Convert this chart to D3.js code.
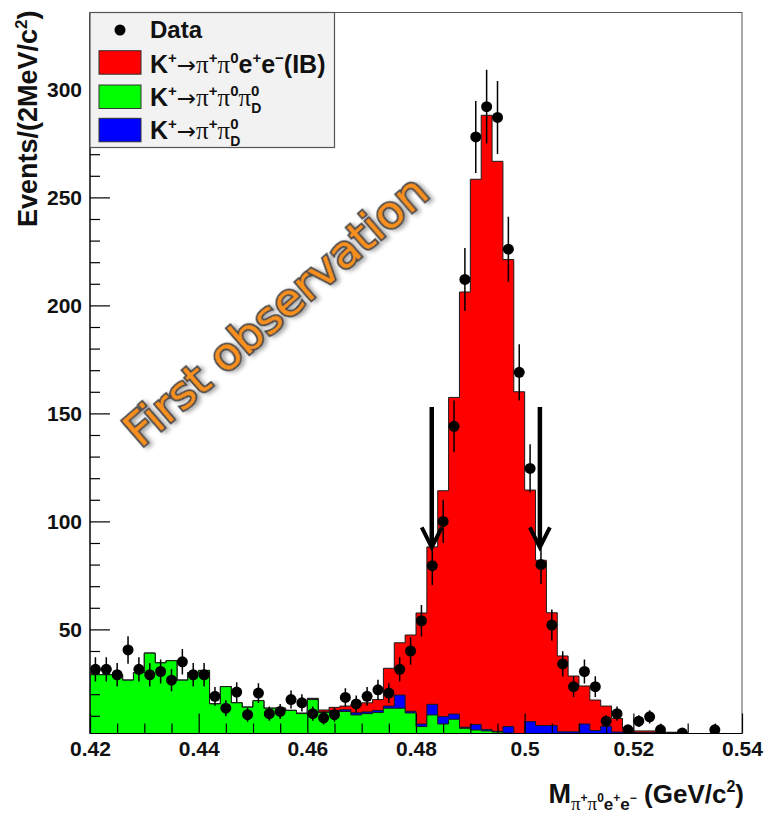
<!DOCTYPE html>
<html>
<head>
<meta charset="utf-8">
<script src="https://cdn.jsdelivr.net/npm/d3@7"></script>
<style>
body{margin:0;background:#fff;}
svg{display:block;}
</style>
</head>
<body>
<div id="chart"></div>
<script>
// 2 MeV bins from 0.420 to 0.540 GeV/c2
const binLow = 0.42;
const binWidth = 0.002;

const dataCounts = [
  31.5, 31.5, 29, 40.5, 31.5, 29, 30.5, 26.5, 35, 29,
  29, 19, 13.5, 21, 10.5, 20.5, 11, 12, 17.5, 16,
  11, 9, 10.5, 18.5, 15.5, 19, 22, 20.5, 31.5, 40,
  54, 79.5, 100, 144, 212, 278, 292, 287, 226, 169,
  124.5, 80, 52, 34, 23.5, 30.5, 23.5, 7.5, 11, 3.5,
  7.5, 9.5, 3.5, 0, 2, 0, 0, 3.5, 0, 0
];
// K+ -> pi+ pi0 pi0_D
const pi0pi0DCounts = [
  29, 29, 29, 26.5, 30, 39, 34.5, 35.5, 26.5, 30,
  31, 15.5, 23.5, 16, 14, 17, 13.5, 13.5, 12.5, 11,
  17.5, 11.5, 11.9, 12, 10.4, 11, 11.5, 13.5, 13.5, 11.3,
  5, 10.4, 6.2, 8.4, 4.2, 3.4, 3, 2.5, 2, 1.5,
  1.2, 1, 1, 1, 1, 1, 1, 1, 0.9, 0.9,
  0.9, 0.9, 0.9, 0.9, 0.8, 0, 0, 0, 0, 0
];
// K+ -> pi+ pi0_D
const pi0DCounts = [
  0, 0, 0, 0, 0, 0, 0, 0, 0, 0,
  0, 0, 0, 0, 0, 0, 0, 0, 0, 0,
  0.3, 0.3, 0.5, 0.8, 1, 0.8, 1, 1, 6.1, 0.8,
  1.2, 4.9, 3.4, 2.4, 0.5, 2.6, 0.7, 0.3, 3, 0.2,
  6.1, 4.5, 4.5, 1.6, 1.6, 5.2, 2.2, 4.2, 1.6, 1.5,
  1.4, 1.4, 1.4, 1.3, 1.2, 0, 0, 0, 0, 0
];
// K+ -> pi+ pi0 e+ e- (IB)
const ibCounts = [
  0, 0, 0, 0, 0, 0, 0, 0, 0, 0,
  0, 0, 0, 0, 0, 0, 0, 0, 0, 0.3,
  0.3, 0.9, 1.5, 1.7, 3.8, 4.2, 5, 17.5, 24.2, 35.3,
  51.4, 72.9, 104.6, 146.6, 201.5, 252.4, 284.3, 263.9, 216.2, 158.3,
  107.2, 76.5, 52.2, 35.1, 25.8, 17.6, 14.1, 9.3, 6.3, 1.8,
  0.7, 0.7, 0.1, 0.2, 0, 0, 0, 0, 0, 0
];

const xTicks = [0.42, 0.44, 0.46, 0.48, 0.5, 0.52, 0.54];
const yTicks = [50, 100, 150, 200, 250, 300];
const cutArrows = [0.4829, 0.5028];
const arrowSpan = [153, 88];

const w = 765, h = 813;
const frame = {left: 90, right: 742, top: 12.5, bottom: 733.5};

const xScale = d3.scaleLinear().domain([0.42, 0.54]).range([frame.left, frame.right]);
const yScale = d3.scaleLinear().domain([1.8, 335.6]).range([frame.bottom, frame.top]);

const svg = d3.select("#chart").append("svg")
    .attr("width", w)
    .attr("height", h)
    .style("font-family", "'Liberation Sans', Arial, sans-serif")
    .style("font-weight", "bold");

const defs = svg.append("defs");
defs.append("clipPath").attr("id", "frameClip")
    .append("rect")
    .attr("x", frame.left).attr("y", frame.top)
    .attr("width", frame.right - frame.left).attr("height", frame.bottom - frame.top);
const shadow = defs.append("filter").attr("id", "shadow")
    .attr("x", "-20%").attr("y", "-20%").attr("width", "140%").attr("height", "140%");
shadow.append("feDropShadow")
    .attr("dx", 2).attr("dy", 3).attr("stdDeviation", 2)
    .attr("flood-color", "#000").attr("flood-opacity", 0.35);

// stacked histograms
const stackGreen = pi0pi0DCounts.slice();
const stackBlue = stackGreen.map((v, i) => v + pi0DCounts[i]);
const stackRed = stackBlue.map((v, i) => v + ibCounts[i]);

const edges = d3.range(dataCounts.length + 1).map(i => binLow + i * binWidth);

const area = d3.area()
    .curve(d3.curveStepAfter)
    .x(d => xScale(d.x))
    .y0(frame.bottom + 5)
    .y1(d => Math.min(yScale(d.v), frame.bottom + 5));

function binPoints(vals) {
  const pts = vals.map((v, i) => ({x: edges[i], v: v}));
  pts.push({x: edges[vals.length], v: vals[vals.length - 1]});
  return pts;
}

const plot = svg.append("g").attr("clip-path", "url(#frameClip)");

[[stackRed, "#ff0000"], [stackBlue, "#0000ff"], [stackGreen, "#00ff00"]].forEach(([vals, col]) => {
  plot.append("path")
      .datum(binPoints(vals))
      .attr("d", area)
      .attr("fill", col)
      .attr("stroke", "#1a1a1a")
      .attr("stroke-width", 1);
});

// data points with errors
const pts = dataCounts.map((v, i) => ({x: binLow + (i + 0.5) * binWidth, v: v})).filter(d => d.v > 0);

plot.selectAll("line.err")
    .data(pts)
    .enter()
    .append("line")
    .attr("class", "err")
    .attr("x1", d => xScale(d.x))
    .attr("x2", d => xScale(d.x))
    .attr("y1", d => yScale(d.v + Math.sqrt(d.v)))
    .attr("y2", d => yScale(d.v - Math.sqrt(d.v)))
    .attr("stroke", "#000")
    .attr("stroke-width", 1.5);

plot.selectAll("circle.dot")
    .data(pts)
    .enter()
    .append("circle")
    .attr("class", "dot")
    .attr("cx", d => xScale(d.x))
    .attr("cy", d => yScale(d.v))
    .attr("r", 5.5)
    .attr("fill", "#000");

// cut arrows
cutArrows.forEach(xv => {
  const ax = xScale(xv);
  const yTop = yScale(arrowSpan[0]);
  const yTip = yScale(arrowSpan[1]);
  svg.append("line")
      .attr("x1", ax).attr("x2", ax)
      .attr("y1", yTop).attr("y2", yTip - 2)
      .attr("stroke", "#000").attr("stroke-width", 4.5);
  svg.append("path")
      .attr("d", `M${ax - 10},${yTip - 20}L${ax},${yTip}L${ax + 10},${yTip - 20}`)
      .attr("fill", "none")
      .attr("stroke", "#000").attr("stroke-width", 4);
});

// frame
svg.append("rect")
    .attr("x", frame.left).attr("y", frame.top)
    .attr("width", frame.right - frame.left).attr("height", frame.bottom - frame.top)
    .attr("fill", "none").attr("stroke", "#555").attr("stroke-width", 1);

// axes (ticks pointing inside, like ROOT)
const xMinor = d3.range(0.425, 0.54, 0.005).filter(v => Math.abs(Math.round(v / 0.02) * 0.02 - v) > 1e-6);
const yMinor = d3.range(10, 336, 10).filter(v => v % 50 !== 0);

const xAxis = d3.axisBottom(xScale).tickValues(xTicks).tickSize(-20).tickPadding(8)
    .tickFormat(d => String(+d.toFixed(2)));
const xAxisMinor = d3.axisBottom(xScale).tickValues(xMinor).tickSize(-10).tickFormat("");
const yAxis = d3.axisLeft(yScale).tickValues(yTicks).tickSize(-20).tickPadding(8);
const yAxisMinor = d3.axisLeft(yScale).tickValues(yMinor).tickSize(-10).tickFormat("");

[xAxis, xAxisMinor].forEach(ax => {
  svg.append("g")
      .attr("transform", "translate(0," + frame.bottom + ")")
      .call(ax);
});
[yAxis, yAxisMinor].forEach(ax => {
  svg.append("g")
      .attr("transform", "translate(" + frame.left + ",0)")
      .call(ax);
});
svg.selectAll(".domain").remove();
svg.selectAll(".tick line").attr("stroke", "#000").attr("stroke-width", 1.2);
svg.selectAll(".tick text")
    .style("font-family", "'Liberation Sans', Arial, sans-serif")
    .style("font-weight", "bold")
    .style("font-size", "21px")
    .attr("fill", "#111");
svg.append("line")
    .attr("x1", frame.left).attr("x2", frame.left)
    .attr("y1", frame.top).attr("y2", frame.bottom)
    .attr("stroke", "#000").attr("stroke-width", 1.2);
svg.append("line")
    .attr("x1", frame.left).attr("x2", frame.right)
    .attr("y1", frame.bottom).attr("y2", frame.bottom)
    .attr("stroke", "#000").attr("stroke-width", 1.2);

// rich text helper: parts {t, size, up, font, dx}
function rich(textSel, parts) {
  let cur = 0;
  parts.forEach(p => {
    const target = -(p.up || 0);
    const ts = textSel.append("tspan")
        .attr("dy", target - cur)
        .style("font-size", p.size + "px")
        .text(p.t);
    if (p.dx) ts.attr("dx", p.dx);
    if (p.font === "serif") ts.style("font-family", "'Liberation Serif', 'DejaVu Serif', serif").style("font-weight", "normal");
    if (p.font === "arrow") ts.style("font-family", "'DejaVu Sans', sans-serif").style("font-weight", "normal");
    cur = target;
  });
}

// axis titles
const yTitle = svg.append("text")
    .attr("transform", "translate(37," + (frame.top - 2) + ") rotate(-90)")
    .attr("text-anchor", "end")
    .attr("fill", "#111");
rich(yTitle, [
  {t: "Events/(2MeV/c", size: 27},
  {t: "2", size: 17, up: 10},
  {t: ")", size: 27}
]);

const xTitle = svg.append("text")
    .attr("x", 744).attr("y", 803)
    .attr("text-anchor", "end")
    .attr("fill", "#111");
rich(xTitle, [
  {t: "M", size: 27},
  {t: "π", size: 19, up: -7, font: "serif"},
  {t: "+", size: 12, up: 1},
  {t: "π", size: 19, up: -7, font: "serif"},
  {t: "0", size: 12, up: 1},
  {t: "e", size: 17, up: -7},
  {t: "+", size: 12, up: 1},
  {t: "e", size: 17, up: -7},
  {t: "−", size: 12, up: 1},
  {t: " (GeV/c", size: 26},
  {t: "2", size: 16, up: 11},
  {t: ")", size: 26}
]);

// "First observation" stamp
svg.append("text")
    .attr("transform", "translate(276,311) rotate(-41)")
    .attr("text-anchor", "middle")
    .attr("dy", "0.35em")
    .attr("textLength", 385)
    .attr("lengthAdjust", "spacingAndGlyphs")
    .style("font-family", "'DejaVu Sans', sans-serif")
    .style("font-weight", "normal")
    .style("font-size", "44px")
    .attr("fill", "#f7901e")
    .attr("stroke", "#4a4a4a")
    .attr("stroke-width", 3.5)
    .attr("paint-order", "stroke")
    .attr("filter", "url(#shadow)")
    .text("First observation");

// legend
const legend = svg.append("g");
legend.append("rect")
    .attr("x", frame.left).attr("y", frame.top)
    .attr("width", 244.5).attr("height", 135)
    .attr("fill", "#f2f2f2")
    .attr("stroke", "#555").attr("stroke-width", 1.2);

legend.append("circle").attr("cx", 120).attr("cy", 30).attr("r", 5.5).attr("fill", "#000");
const dataLabel = legend.append("text").attr("x", 150).attr("y", 38).attr("fill", "#111");
rich(dataLabel, [{t: "Data", size: 24}]);

const legendRows = [
  {col: "#ff0000", y: 50.7, base: 73, parts: [
    {t: "K", size: 25}, {t: "+", size: 15, up: 10},
    {t: "→", size: 23, font: "arrow"},
    {t: "π", size: 25, font: "serif"}, {t: "+", size: 15, up: 10},
    {t: "π", size: 25, font: "serif"}, {t: "0", size: 15, up: 10},
    {t: "e", size: 25}, {t: "+", size: 15, up: 10},
    {t: "e", size: 25}, {t: "−", size: 15, up: 10},
    {t: "(IB)", size: 25}
  ]},
  {col: "#00ff00", y: 85, base: 106, parts: [
    {t: "K", size: 25}, {t: "+", size: 15, up: 10},
    {t: "→", size: 23, font: "arrow"},
    {t: "π", size: 25, font: "serif"}, {t: "+", size: 15, up: 10},
    {t: "π", size: 25, font: "serif"}, {t: "0", size: 15, up: 10},
    {t: "π", size: 25, font: "serif"}, {t: "0", size: 15, up: 10},
    {t: "D", size: 14, up: -7, dx: -8.3}
  ]},
  {col: "#0000ff", y: 118.3, base: 139, parts: [
    {t: "K", size: 25}, {t: "+", size: 15, up: 10},
    {t: "→", size: 23, font: "arrow"},
    {t: "π", size: 25, font: "serif"}, {t: "+", size: 15, up: 10},
    {t: "π", size: 25, font: "serif"}, {t: "0", size: 15, up: 10},
    {t: "D", size: 14, up: -7, dx: -8.3}
  ]}
];

legendRows.forEach(r => {
  legend.append("rect")
      .attr("x", 99).attr("y", r.y)
      .attr("width", 42).attr("height", 23.5)
      .attr("fill", r.col)
      .attr("stroke", "#333").attr("stroke-width", 1);
  const t = legend.append("text").attr("x", 150).attr("y", r.base).attr("fill", "#111");
  rich(t, r.parts);
});
</script>
</body>
</html>
